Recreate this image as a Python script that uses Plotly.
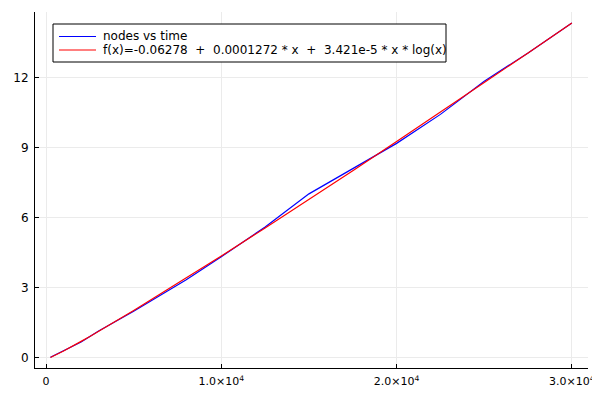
import plotly.graph_objects as go

# data
nodes = [250, 1000, 2000, 3000, 5000, 8000, 10000, 12500, 15000, 17500, 20000, 22500, 25000, 27500, 30000]
times = [0.03, 0.30, 0.68, 1.15, 2.00, 3.35, 4.33, 5.60, 7.02, 8.10, 9.18, 10.42, 11.84, 13.05, 14.33]

fit_x = [250, 1000, 2000, 2500, 5000, 7500, 10000, 12500, 15000, 17500, 20000, 22500, 25000, 27500, 30000]
fit_y = [0.02, 0.30, 0.71, 0.92, 2.03, 3.18, 4.36, 5.56, 6.78, 8.01, 9.26, 10.51, 11.78, 13.05, 14.33]

series_names = ["nodes vs time",
                "f(x)=-0.06278  +  0.0001272 * x  +  3.421e-5 * x * log(x)"]
series_colors = ["#0000ff", "#ff0000"]

xtick_vals = [0, 10000, 20000, 30000]
xtick_text = ["0", "1.0×10<sup>4</sup>", "2.0×10<sup>4</sup>", "3.0×10<sup>4</sup>"]
ytick_vals = [0, 3, 6, 9, 12]

fig = go.Figure()
fig.add_trace(go.Scatter(x=nodes, y=times, mode="lines", name=series_names[0],
                         line=dict(color=series_colors[0], width=1.2)))
fig.add_trace(go.Scatter(x=fit_x, y=fit_y, mode="lines", name=series_names[1],
                         line=dict(color=series_colors[1], width=1.2)))

# page body has an 8px margin; figure is sized to fill the rest of the window
OFF = 8
FW, FH = 600 - OFF, 400 - OFF
# plot area in window pixels
PL, PR, PT, PB = 35, 588, 12, 368
L, T = PL - OFF, PT - OFF
R, B = FW - (PR - OFF), FH - (PB - OFF)
W, H = PR - PL, PB - PT

def px(xp):
    return (xp - PL) / W

def py(yp):
    return 1 - (yp - PT) / H

# manual legend (to match compact spacing)
fig.add_shape(type="rect", xref="paper", yref="paper",
              x0=px(53), x1=px(446), y0=py(62), y1=py(24),
              line=dict(color="black", width=1), fillcolor="white", layer="above")
for i, (name, col) in enumerate(zip(series_names, series_colors)):
    yrow = 36.5 + i * 13.5
    fig.add_shape(type="line", xref="paper", yref="paper",
                  x0=px(59), x1=px(96), y0=py(yrow), y1=py(yrow),
                  line=dict(color=col, width=1.2), layer="above")
    fig.add_annotation(xref="paper", yref="paper", x=px(101), y=py(yrow),
                       xanchor="left", yanchor="middle", text=name, showarrow=False,
                       font=dict(size=12, color="black"))

fig.update_layout(
    width=FW, height=FH,
    margin=dict(l=L, r=R, t=T, b=B, pad=0),
    paper_bgcolor="white", plot_bgcolor="white",
    font=dict(family="DejaVu Sans", size=11, color="black"),
    showlegend=False,
    xaxis=dict(range=[-630, 30920], tickvals=xtick_vals, ticktext=xtick_text,
               showgrid=True, gridcolor="#ebebeb", gridwidth=1, automargin=False,
               zeroline=False, showline=True, linecolor="black", linewidth=1,
               ticks="inside", ticklen=4, tickcolor="black", mirror=False,
               tickfont=dict(size=11), ticklabelstandoff=3),
    yaxis=dict(range=[-0.43, 14.8], tickvals=ytick_vals,
               showgrid=True, gridcolor="#ebebeb", gridwidth=1, automargin=False,
               zeroline=False, showline=True, linecolor="black", linewidth=1,
               ticks="inside", ticklen=4, tickcolor="black", mirror=False,
               tickfont=dict(size=12), ticklabelstandoff=3),
)

fig.write_html("out.html")
